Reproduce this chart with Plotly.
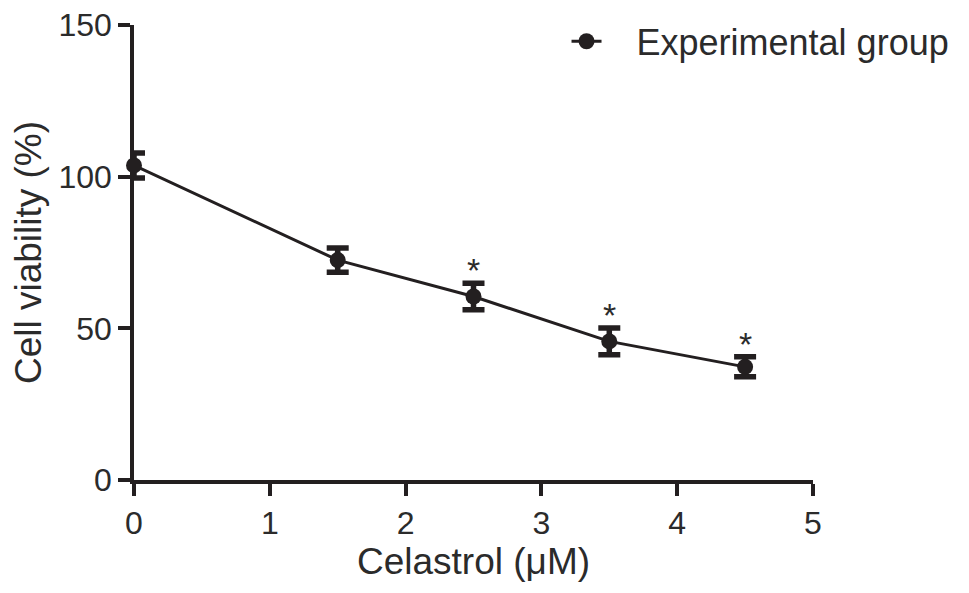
import plotly.graph_objects as go

# Celastrol dose (uM) vs cell viability (%)
dose = [0, 1.5, 2.5, 3.5, 4.5]
viability = [103.7, 72.5, 60.5, 45.7, 37.3]
sem = [4.1, 4.0, 4.4, 4.4, 3.3]
signif = ["", "", "*", "*", "*"]

font_name = "Liberation Sans, Arial, sans-serif"
ink = "#231f20"
text_ink = "#2b2b2b"

fig = go.Figure()

fig.add_trace(go.Scatter(
    x=dose,
    y=viability,
    mode="lines+markers",
    name="\u00a0\u00a0\u00a0Experimental group",
    line=dict(color=ink, width=3),
    marker=dict(color=ink, size=16, symbol="circle"),
    error_y=dict(type="data", array=sem, visible=True,
                 color=ink, thickness=5.5, width=11),
    cliponaxis=False,
))

# asterisks above the error bars
for xv, yv, ev, s in zip(dose, viability, sem, signif):
    if s:
        fig.add_annotation(x=xv, y=yv + ev, text=s, showarrow=False,
                           yanchor="bottom", yshift=-8,
                           font=dict(size=34, color=text_ink, family=font_name))

fig.update_layout(
    width=969,
    height=593,
    margin=dict(l=126, r=164, t=17, b=121, autoexpand=False),
    paper_bgcolor="white",
    plot_bgcolor="white",
    font=dict(family=font_name, color=text_ink, size=32),
    showlegend=True,
    legend=dict(x=0.637, y=1.03, xanchor="left", yanchor="top",
                font=dict(size=36, color=text_ink), bgcolor="rgba(0,0,0,0)"),
    xaxis=dict(
        range=[0, 5], tickvals=[0, 1, 2, 3, 4, 5],
        showline=True, linecolor=ink, linewidth=3.5,
        ticks="outside", ticklen=12, tickwidth=3.5, tickcolor=ink,
        showgrid=False, zeroline=False,
        tickfont=dict(size=32), ticklabeloverflow="allow",
        title=dict(text="Celastrol (μM)", font=dict(size=37), standoff=4),
    ),
    yaxis=dict(
        range=[0, 150], tickvals=[0, 50, 100, 150],
        showline=True, linecolor=ink, linewidth=3.5,
        ticks="outside", ticklen=12, tickwidth=3.5, tickcolor=ink,
        showgrid=False, zeroline=False,
        tickfont=dict(size=32), ticklabeloverflow="allow",
        title=dict(text="Cell viability (%)", font=dict(size=37), standoff=10),
    ),
)

fig.write_html("out.html")
